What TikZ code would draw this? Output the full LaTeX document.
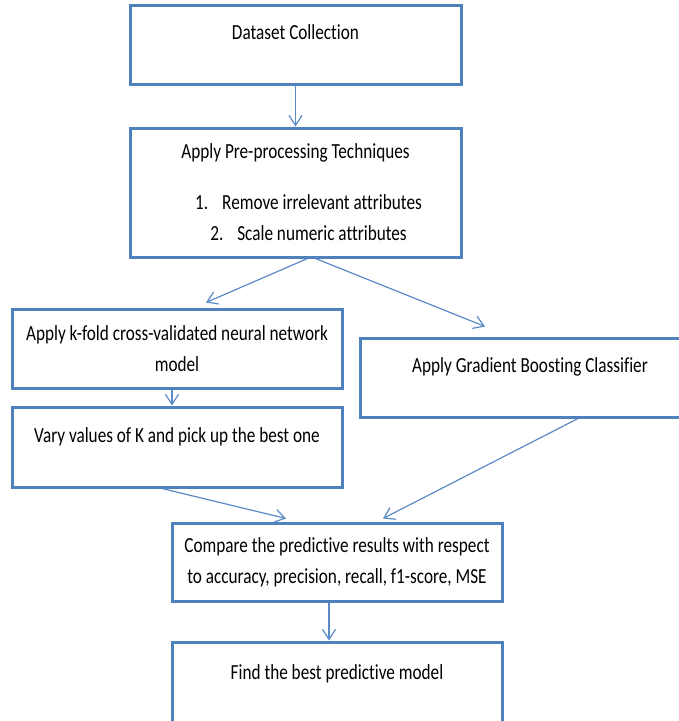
\documentclass[tikz,border=0pt]{standalone}
\usepackage{fontspec}
\setmainfont{Carlito}[FakeStretch=0.8, Ligatures=NoCommon]
\usetikzlibrary{arrows.meta, calc}
\definecolor{boxblue}{HTML}{4F81BD}
\definecolor{lineblue}{HTML}{5B8AC6}

\begin{document}
\begin{tikzpicture}[x=1pt, y=-1pt,
    stage/.style = {draw=boxblue, line width=3pt, minimum width=331pt, minimum height=79pt,
                    align=center, inner sep=0pt, font=\fontsize{21.5}{31}\selectfont},
    single/.style = {text height=16pt, text depth=26pt},
    flow/.style = {draw=lineblue, line width=1.2pt,
                   -{Straight Barb[length=10pt, width=13pt, line width=1.2pt]}}]
    \useasboundingbox (0,0) rectangle (679,721);
    \clip (0,0) rectangle (679,721);
    \fill[white] (0,0) rectangle (679,721);

    % boxes
    \node[stage, single] (collect) at (295.5, 44.5) {Dataset Collection};
    \node[stage, minimum height=129pt] (preproc) at (295.5, 192.5)
        {Apply Pre-processing Techniques\\[20pt]
         \hspace*{26pt}1.\hspace{14pt}Remove irrelevant attributes\\
         \hspace*{26pt}2.\hspace{14pt}Scale numeric attributes};
    \node[stage, minimum width=330pt] (kfold) at (177, 348.5)
        {Apply k-fold cross-validated neural network\\ model};
    \node[stage, single, minimum width=330pt, minimum height=80pt] (vary) at (177, 447)
        {Vary values of K and pick up the best one};
    \node[stage, single, minimum width=340pt] (gbc) at (530, 377.5)
        {Apply Gradient Boosting Classifier};
    \node[stage, minimum width=330pt, minimum height=78pt] (compare) at (337, 562)
        {Compare the predictive results with respect\\ to accuracy, precision, recall, f1-score, MSE};
    \node[stage, single, minimum width=330pt, minimum height=84pt] (find) at (337, 684)
        {Find the best predictive model};

    % arrows
    \draw[flow] (collect.south) -- (preproc.north);
    \draw[flow] ($(preproc.south)+(12,0)$) -- ($(kfold.north)+(29,-5)$);
    \draw[flow] ($(preproc.south)+(20,0)$) -- ($(gbc.north)+(-45,-10)$);
    \draw[flow] ($(kfold.south)+(-5,0)$) -- ($(vary.north)+(-5,0)$);
    \draw[flow] ($(vary.south)+(-15,0)$) -- ($(compare.north)+(-51,-3)$);
    \draw[flow] ($(gbc.south)+(48,0)$) -- ($(compare.north)+(46,-3)$);
    \draw[flow] ($(compare.south)+(-8,0)$) -- ($(find.north)+(-8,0)$);
\end{tikzpicture}
\end{document}
